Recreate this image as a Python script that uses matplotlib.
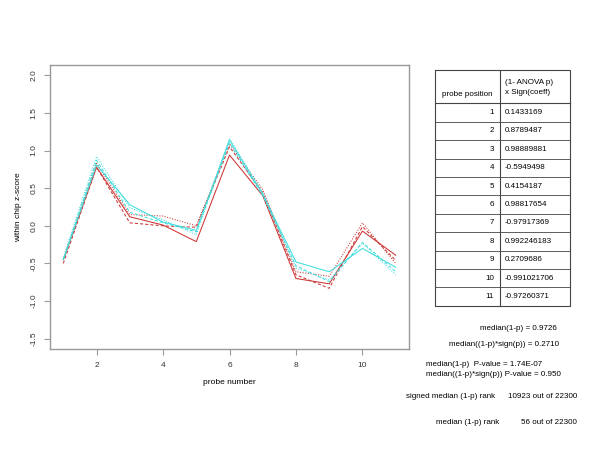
import numpy as np
import matplotlib
matplotlib.use("Agg")
import matplotlib.pyplot as plt

plt.rcParams['font.family'] = ['Liberation Sans', 'DejaVu Sans']

# probe-level z-scores
probe = np.arange(1, 12)
red_solid = [-0.45, 0.78, 0.12, 0.01, -0.21, 0.94, 0.40, -0.70, -0.77, -0.07, -0.39]
red_dashed = [-0.50, 0.78, 0.04, 0.00, -0.02, 1.05, 0.44, -0.65, -0.83, -0.01, -0.46]
red_dotted = [-0.45, 0.83, 0.15, 0.13, 0.00, 1.09, 0.48, -0.61, -0.67, 0.04, -0.50]
cyan_solid = [-0.45, 0.81, 0.28, 0.05, -0.06, 1.14, 0.42, -0.48, -0.61, -0.30, -0.55]
cyan_dashed = [-0.45, 0.87, 0.18, 0.04, -0.08, 1.10, 0.40, -0.53, -0.74, -0.22, -0.61]
cyan_dotted = [-0.42, 0.92, 0.24, 0.08, -0.12, 1.16, 0.44, -0.56, -0.72, -0.23, -0.65]

table_pos = [str(i) for i in range(1, 12)]
table_val = ["0.1433169", "0.8789487", "0.98889881", "-0.5949498", "0.4154187",
             "0.98817654", "-0.97917369", "0.992246183", "0.2709686",
             "-0.991021706", "-0.97260371"]

stats_top = ["median(1-p) = 0.9726", "median((1-p)*sign(p)) = 0.2710"]
stats_pval = ["median(1-p)  P-value = 1.74E-07",
              "median((1-p)*sign(p)) P-value = 0.950"]
rank_labels = ["signed median (1-p) rank", "median (1-p) rank"]
rank_values = ["10923 out of 22300", "56 out of 22300"]

RED = "#cc3535"
CYAN = "#40dede"
GREY = "#999999"
FS = 6.0

fig = plt.figure(figsize=(6, 4.5), dpi=100)
ax = fig.add_axes([50 / 600, 1 - 349.3 / 450, 359 / 600, 284.6 / 450])

lw = 0.75
ax.plot(probe, red_solid, color=RED, lw=lw, ls="-")
ax.plot(probe, red_dashed, color=RED, lw=lw, ls=(0, (3, 2)))
ax.plot(probe, red_dotted, color=RED, lw=lw, ls=(0, (1, 1.5)))
ax.plot(probe, cyan_solid, color=CYAN, lw=lw, ls="-")
ax.plot(probe, cyan_dashed, color=CYAN, lw=lw, ls=(0, (3, 2)))
ax.plot(probe, cyan_dotted, color=CYAN, lw=lw, ls=(0, (1, 1.5)))

ax.set_xlim(0.6, 11.4)
ax.set_ylim(-1.64, 2.14)
ax.set_xticks([2, 4, 6, 8, 10])
ax.set_yticks([-1.5, -1.0, -0.5, 0.0, 0.5, 1.0, 1.5, 2.0])
ax.set_yticklabels([f"{v:.1f}" for v in ax.get_yticks()], rotation=90, va="center")
for s in ax.spines.values():
    s.set_color(GREY)
    s.set_linewidth(1.0)
ax.tick_params(colors="#333333", labelsize=FS, length=4, pad=5, width=0.8)
ax.tick_params(axis="both", color=GREY)
ax.set_xlabel("probe number", fontsize=FS, labelpad=7)
ax.set_ylabel("within chip z-score", fontsize=FS, labelpad=6)

# overlay in pixel coordinates for the table and text
ov = fig.add_axes([0, 0, 1, 1])
ov.set_xlim(0, 600)
ov.set_ylim(450, 0)
ov.axis("off")

left, mid, right = 435, 500, 570
top, head_bot, bottom = 70, 103.3, 305.7
row_h = (bottom - head_bot) / len(table_pos)
lc = "#444444"
ov.plot([left, right, right, left, left], [top, top, bottom, bottom, top], color=lc, lw=0.8)
ov.plot([mid, mid], [top, bottom], color=lc, lw=0.8)
ov.plot([left, right], [head_bot, head_bot], color=lc, lw=0.8)
for i in range(1, len(table_pos)):
    y = head_bot + i * row_h
    ov.plot([left, right], [y, y], color=lc, lw=0.6)

TFS = 5.8
ov.text((left + mid) / 2, 95, "probe position", fontsize=TFS, ha="center", va="center")
ov.text(505, 82, "(1- ANOVA p)", fontsize=TFS, ha="left", va="center")
ov.text(505, 93, "x Sign(coeff)", fontsize=TFS, ha="left", va="center")
for i, (p, v) in enumerate(zip(table_pos, table_val)):
    yc = head_bot + (i + 0.5) * row_h
    ov.text(494, yc, p, fontsize=TFS, ha="right", va="center")
    ov.text(505, yc, v, fontsize=TFS, ha="left", va="center")

ov.text(557, 329, stats_top[0], fontsize=TFS, ha="right", va="center")
ov.text(559, 344, stats_top[1], fontsize=TFS, ha="right", va="center")
ov.text(426, 364, stats_pval[0], fontsize=TFS, ha="left", va="center")
ov.text(426, 374.5, stats_pval[1], fontsize=TFS, ha="left", va="center")
ov.text(406, 397, rank_labels[0], fontsize=TFS, ha="left", va="center")
ov.text(577, 397, rank_values[0], fontsize=TFS, ha="right", va="center")
ov.text(436, 422, rank_labels[1], fontsize=TFS, ha="left", va="center")
ov.text(577, 422, rank_values[1], fontsize=TFS, ha="right", va="center")

fig.savefig("out.png", dpi=100)
